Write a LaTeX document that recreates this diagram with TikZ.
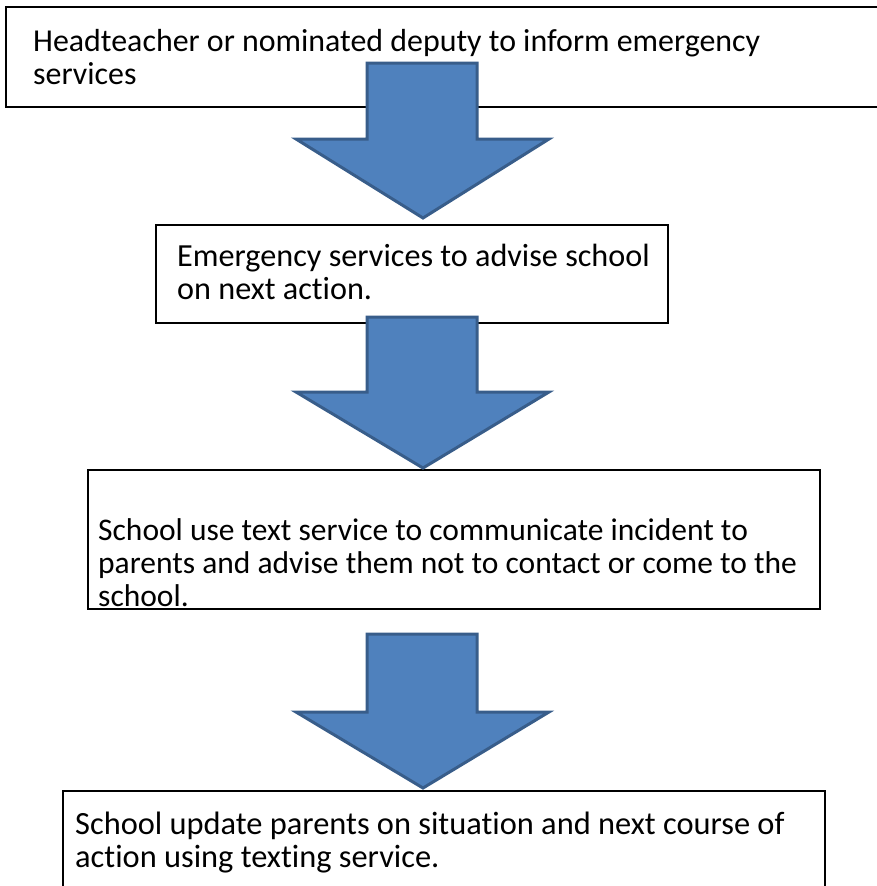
\documentclass[tikz,border=0pt]{standalone}
\usepackage{fontspec}
\setmainfont{Carlito}[Ligatures=NoCommon]
\definecolor{arrowfill}{HTML}{4F81BD}
\definecolor{arrowline}{HTML}{385D8A}
\begin{document}
\begin{tikzpicture}[x=1pt,y=-1pt,
  stepbox/.style={draw=black,line width=1.6pt,fill=white,anchor=north west,inner sep=0pt},
  steptext/.style={anchor=west,align=left,inner sep=0pt},
  downarrow/.style={fill=arrowfill,draw=arrowline,line width=3pt,line join=miter}]
\useasboundingbox (0,0) rectangle (876,886);
% boxes
\node[stepbox,minimum width=879pt,minimum height=100pt] (b1) at (5,6) {};
\node[stepbox,minimum width=512pt,minimum height=98pt] (b2) at (155,224) {};
\node[stepbox,minimum width=732pt,minimum height=139pt] (b3) at (87,469) {};
\node[stepbox,minimum width=762pt,minimum height=106pt] (b4) at (62,790) {};
% texts
\node[steptext,font=\fontsize{31.9}{33}\selectfont] (t1) at (33,57) {Headteacher or nominated deputy to inform emergency\\services};
\node[steptext,font=\fontsize{32.2}{33}\selectfont] (t2) at (177,272) {Emergency services to advise school\\on next action.};
\node[steptext,font=\fontsize{31.5}{33}\selectfont] (t3) at (98,563) {School use text service to communicate incident to\\parents and advise them not to contact or come to the\\school.};
\node[steptext,font=\fontsize{32.4}{33}\selectfont] (t4) at (75,843) {School update parents on situation and next course of\\action using texting service.};
% arrows
\foreach \top/\sh/\tip in {63/139/218, 317/392/468, 634/712/788}{
  \draw[downarrow] (367,\top) -- (477,\top) -- (477,\sh) -- (549,\sh) -- (423,\tip) -- (296,\sh) -- (367,\sh) -- cycle;
}
\end{tikzpicture}
\end{document}
